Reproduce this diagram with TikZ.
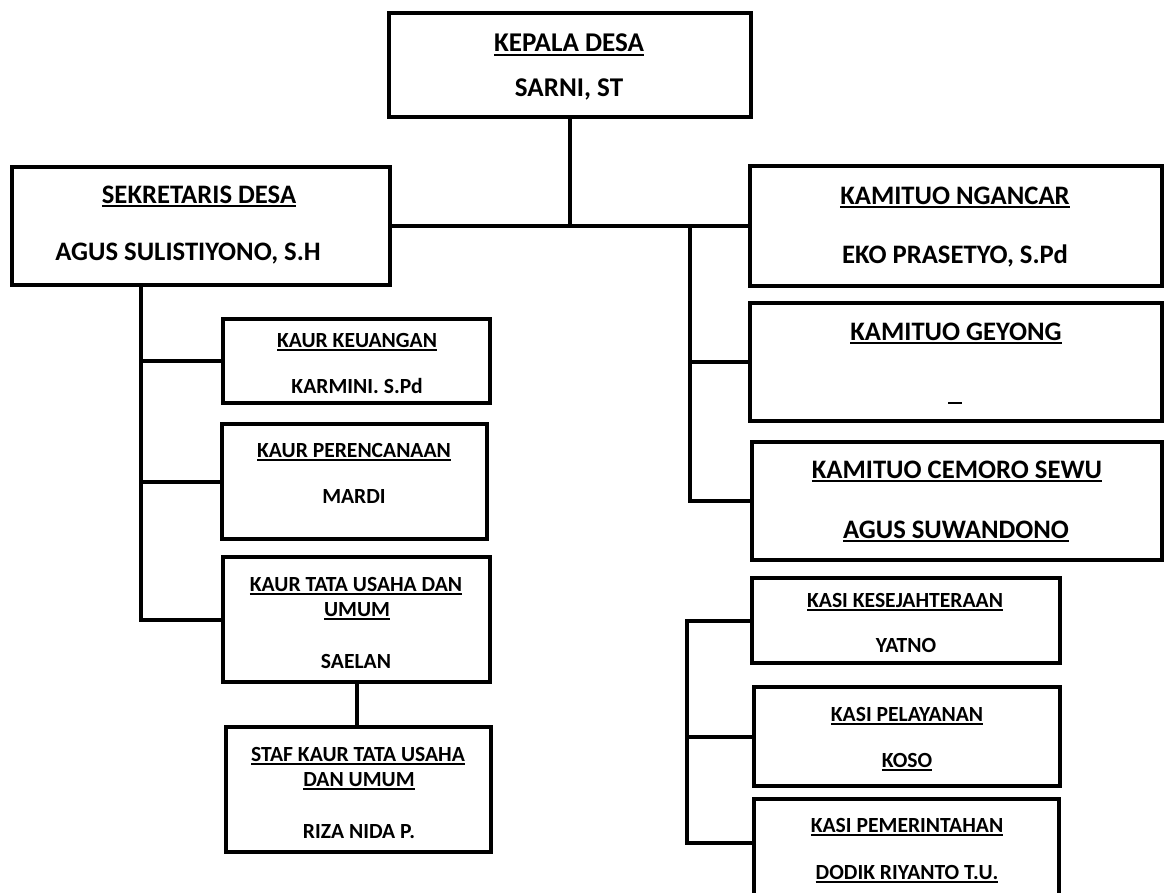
\documentclass[tikz,border=0pt]{standalone}
\usepackage{fontspec}
\setmainfont{Carlito}
\usetikzlibrary{fit}
\newcommand\myul[1]{\setbox0=\hbox{#1}\rlap{\rule[-2.7pt]{\wd0}{1.5pt}}\box0}
\tikzset{
  box/.style={draw, line width=3pt, inner sep=0pt},
  conn/.style={draw, line width=3pt},
  lbl/.style={anchor=base, inner sep=0pt},
  big/.style={lbl, font=\fontsize{20}{24}\selectfont\bfseries},
  huge/.style={lbl, font=\fontsize{20.3}{24}\selectfont\bfseries},
  small/.style={lbl, font=\fontsize{16.2}{19}\selectfont\bfseries},
}
\begin{document}
\begin{tikzpicture}[x=0.75pt, y=-0.75pt]
\useasboundingbox (0,0) rectangle (1166,892);
\fill[white] (0,0) rectangle (1166,892);
\clip (0,0) rectangle (1166,892);
% boxes
\node[box, fit={(389,13) (751,117)}] (kepala) {};
\node[box, fit={(12,167) (390,285)}] (sek) {};
\node[box, fit={(223,319) (490,403)}] (keu) {};
\node[box, fit={(222,424) (487,539)}] (ren) {};
\node[box, fit={(223,557) (490,682)}] (tata) {};
\node[box, fit={(226,727) (491,852)}] (staf) {};
\node[box, fit={(750,166) (1162,286)}] (ngancar) {};
\node[box, fit={(750,303) (1162,421)}] (geyong) {};
\node[box, fit={(752,442) (1162,560)}] (cemoro) {};
\node[box, fit={(752,578) (1060,663)}] (kesej) {};
\node[box, fit={(754,687) (1060,786)}] (pelay) {};
\node[box, fit={(754,799) (1059,930)}] (pemer) {};
% texts
\node[huge] (kepala1) at (569,52) {\myul{KEPALA DESA}};
\node[huge] (kepala2) at (569,96) {SARNI, ST};
\node[big] (sek1) at (199,203) {\myul{SEKRETARIS DESA}};
\node[big] (sek2) at (188,260) {AGUS SULISTIYONO, S.H};
\node[small] (keu1) at (357,347) {\myul{KAUR KEUANGAN}};
\node[small] (keu2) at (357,393) {KARMINI. S.Pd};
\node[small] (ren1) at (354,457) {\myul{KAUR PERENCANAAN}};
\node[small] (ren2) at (354,503) {MARDI};
\node[small] (tata1) at (356,591) {\myul{KAUR TATA USAHA DAN}};
\node[small] (tata2) at (357,616) {\myul{UMUM}};
\node[small] (tata3) at (356,668) {SAELAN};
\node[small] (staf1) at (358,761) {\myul{STAF KAUR TATA USAHA}};
\node[small] (staf2) at (359,786) {\myul{DAN UMUM}};
\node[small] (staf3) at (359,838) {RIZA NIDA P.};
\node[big] (ng1) at (955,204) {\myul{KAMITUO NGANCAR}};
\node[big] (ng2) at (955,263) {EKO PRASETYO, S.Pd};
\node[big] (gy1) at (956,340) {\myul{KAMITUO GEYONG}};
\node[big] (gy2) at (955,400) {\myul{\hspace{10pt}}};
\node[big] (cm1) at (957,478) {\myul{KAMITUO CEMORO SEWU}};
\node[big] (cm2) at (956,538) {\myul{AGUS SUWANDONO}};
\node[small] (ks1) at (905,607) {\myul{KASI KESEJAHTERAAN}};
\node[small] (ks2) at (906,652) {YATNO};
\node[small] (pl1) at (907,721) {\myul{KASI PELAYANAN}};
\node[small] (pl2) at (907,767) {\myul{KOSO}};
\node[small] (pm1) at (907,832) {\myul{KASI PEMERINTAHAN}};
\node[small] (pm2) at (907,879) {\myul{DODIK RIYANTO T.U.}};
% connectors
\coordinate (rt1) at (690,226);
\coordinate (lt) at (141,285);
\coordinate (rt2) at (687,843);
\draw[conn] (sek.east) -- (ngancar.west);
\draw[conn] (kepala.south) -- (kepala.south |- sek.east);
\draw[conn] (rt1) |- (cemoro.west);
\draw[conn] (rt1 |- geyong.west) -- (geyong.west);
\draw[conn] (lt) |- (tata.west);
\draw[conn] (lt |- keu.west) -- (keu.west);
\draw[conn] (lt |- ren.west) -- (ren.west);
\draw[conn] (tata.south) -- (tata.south |- staf.north);
\draw[conn] (kesej.west) -| (rt2) -- (rt2 -| pemer.west);
\draw[conn] (rt2 |- pelay.west) -- (pelay.west);
\end{tikzpicture}
\end{document}
